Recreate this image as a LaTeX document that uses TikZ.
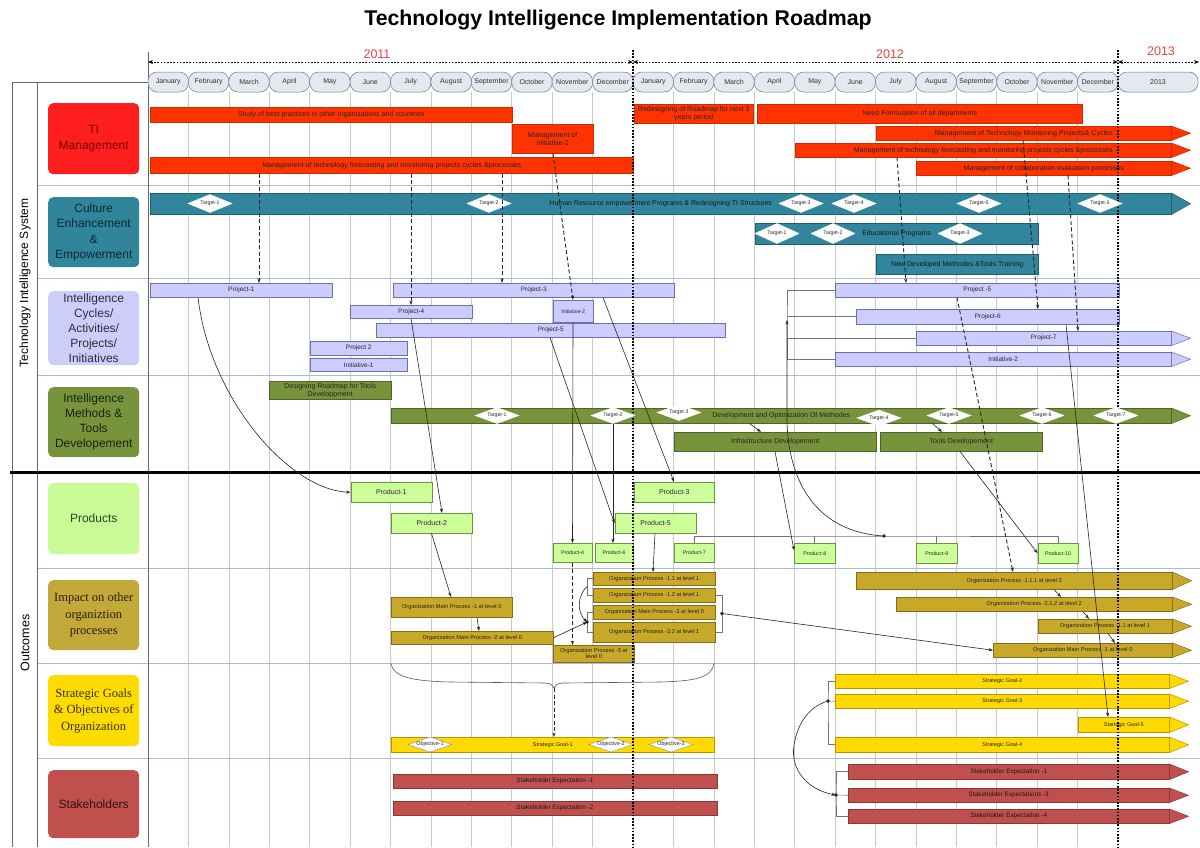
\documentclass[tikz,border=0pt]{standalone}
\usepackage{fontspec}
\setmainfont{Liberation Sans}
\newfontfamily\serifcat{Liberation Serif}
\usetikzlibrary{arrows.meta,shapes.geometric}

% palette
\definecolor{tired}{RGB}{255,51,0}
\definecolor{tiredD}{RGB}{200,45,0}
\definecolor{ceteal}{RGB}{49,133,156}
\definecolor{cetealD}{RGB}{30,95,110}
\definecolor{lav}{RGB}{204,204,255}
\definecolor{lavD}{RGB}{110,110,170}
\definecolor{mgreen}{RGB}{119,147,60}
\definecolor{mgreenD}{RGB}{80,100,40}
\definecolor{prodg}{RGB}{204,255,153}
\definecolor{prodD}{RGB}{100,150,60}
\definecolor{gold}{RGB}{199,168,40}
\definecolor{goldD}{RGB}{130,110,25}
\definecolor{goalY}{RGB}{255,217,0}
\definecolor{goalD}{RGB}{180,150,0}
\definecolor{stk}{RGB}{192,80,77}
\definecolor{stkD}{RGB}{140,55,52}
\definecolor{monthF}{RGB}{228,232,240}
\definecolor{monthD}{RGB}{110,120,140}
\definecolor{gridc}{RGB}{200,200,205}
\definecolor{rowc}{RGB}{175,185,215}
\definecolor{yearc}{RGB}{228,70,60}
\definecolor{catTIf}{RGB}{255,30,30}
\definecolor{catTIt}{RGB}{120,0,0}
\definecolor{catCEf}{RGB}{49,133,155}
\definecolor{catCEt}{RGB}{10,40,50}
\definecolor{catICf}{RGB}{205,205,250}
\definecolor{catICt}{RGB}{45,45,60}
\definecolor{catMTf}{RGB}{119,147,60}
\definecolor{catMTt}{RGB}{25,35,10}
\definecolor{catPRf}{RGB}{200,250,150}
\definecolor{catPRt}{RGB}{40,70,30}
\definecolor{catIMf}{RGB}{195,168,58}
\definecolor{catIMt}{RGB}{40,30,10}
\definecolor{catSGf}{RGB}{255,220,0}
\definecolor{catSGt}{RGB}{60,45,0}
\definecolor{catSKf}{RGB}{192,80,77}
\definecolor{catSKt}{RGB}{50,15,15}

\tikzset{
  bar/.style={draw, line width=0.5pt, inner sep=0pt, align=center, anchor=north west,
    text=black!85, font=\fontsize{6.5}{7}\selectfont},
  tibar/.style={bar, fill=tired, draw=tiredD, font=\fontsize{7.1}{7.6}\selectfont},
  cebar/.style={bar, fill=ceteal, draw=cetealD, font=\fontsize{7}{8}\selectfont, text=black!90},
  icbar/.style={bar, fill=lav, draw=lavD, font=\fontsize{6.5}{7}\selectfont},
  mtbar/.style={bar, fill=mgreen, draw=mgreenD, font=\fontsize{7}{8}\selectfont},
  prbar/.style={bar, fill=prodg, draw=prodD, font=\fontsize{7}{8}\selectfont},
  prsmall/.style={prbar, font=\fontsize{5.3}{6}\selectfont},
  imbar/.style={bar, fill=gold, draw=goldD, font=\fontsize{5.7}{6.3}\selectfont},
  sgbar/.style={bar, fill=goalY, draw=goalD, font=\fontsize{5.5}{6}\selectfont},
  skbar/.style={bar, fill=stk, draw=stkD, font=\fontsize{6.4}{7}\selectfont, text=black!90},
  target/.style={diamond, aspect=3, fill=white, draw=white, inner sep=0pt, outer sep=0pt,
    minimum width=44, minimum height=18, font=\fontsize{5.2}{6}\selectfont, text=black!85},
  objective/.style={diamond, aspect=3, fill=white, draw=black!45, line width=0.4pt,
    inner sep=0pt, outer sep=0pt, minimum width=44, minimum height=15,
    font=\fontsize{5.4}{6}\selectfont, text=black!85},
  month/.style={draw=monthD, fill=monthF, rounded corners=9, minimum height=20,
    inner sep=0pt, font=\fontsize{7}{7.5}\selectfont, text=black!80, line width=0.5pt},
  cat/.style={rounded corners=5, anchor=north west, inner sep=0pt, align=center,
    minimum width=91, font=\fontsize{12}{15.5}\selectfont},
  conn/.style={-{Stealth[length=4.5pt,width=3.2pt]}, line width=0.6pt, draw=black!85},
  dconn/.style={conn, line width=0.9pt, dash pattern=on 4pt off 2.5pt},
  brk/.style={draw=black!55, line width=0.6pt},
  gridline/.style={draw=gridc, line width=0.6pt},
  rowline/.style={draw=rowc, line width=0.7pt},
  frameline/.style={draw=black!60, line width=0.8pt},
  yeardiv/.style={draw=black, line width=1.3pt, dash pattern=on 1.6pt off 1.6pt},
  yeararrow/.style={draw=black, line width=1pt, dash pattern=on 1.6pt off 1.6pt,
    {Stealth[length=5pt,width=4pt]}-{Stealth[length=5pt,width=4pt]}},
}

% bar from (x1,y1) to (x2,y2): style, x1, y1, x2, y2, name
\newcommand{\tlbar}[6]{\node[#1, minimum width={#4-#2}, minimum height={#5-#3}] (#6) at (#2,#3)}
% pointed end attached to the east side of a bar
\newcommand{\arrtip}[3]{\filldraw[fill=#2, draw=#3, line width=0.5pt]
  (#1.north east) -- ([xshift=19]#1.east) -- (#1.south east) -- cycle;}

\begin{document}
\begin{tikzpicture}[x=1pt,y=-1pt]
\useasboundingbox (0,0) rectangle (1200,847);
\fill[white] (0,0) rectangle (1200,847);

% ---------- grid and frame ----------
\foreach \i in {1,2,...,11,13,14,...,23}
  \draw[gridline] ({148+40.417*\i},92) -- ({148+40.417*\i},847);
\foreach \y in {185,278,375,568,663,758}
  \draw[rowline] (37,\y) -- (1200,\y);
\draw[frameline] (12,82) -- (12,847);
\draw[frameline] (37,82) -- (37,847);
\draw[frameline] (148,52) -- (148,847);
\draw[frameline] (12,82) -- (148,82);
\draw[line width=3pt] (10,472) -- (1200,472);

% ---------- title and header ----------
\node[font=\bfseries\fontsize{21.3}{24}\selectfont] (title) at (618,20)
  {Technology Intelligence Implementation Roadmap};
\node[text=yearc, font=\fontsize{12.5}{14}\selectfont] (yrA) at (377,54) {2011};
\node[text=yearc, font=\fontsize{12.5}{14}\selectfont] (yrB) at (890,54) {2012};
\node[text=yearc, font=\fontsize{12.5}{14}\selectfont] (yrC) at (1161,51) {2013};
\draw[yeararrow] (148,62) -- (633,62);
\draw[yeararrow] (633,62) -- (1118,62);
\draw[yeararrow] (1118,62) -- (1199,62);

\foreach \m [count=\i from 0] in {January,February,March,April,May,June,July,August,September,October,November,December} {
  \node[month, minimum width=40.4] (ma\i) at ({148+40.417*(\i+0.5)},82) {\m};
  \node[month, minimum width=40.4] (mb\i) at ({633+40.417*(\i+0.5)},82) {\m};
}
\node[month, minimum width=80] (mc) at (1158,82) {2013};

% ---------- side labels ----------
\node[rotate=90, font=\fontsize{12}{14}\selectfont] (sysLbl) at (25,283) {Technology Intelligence System};
\node[rotate=90, font=\fontsize{12.5}{14}\selectfont] (outLbl) at (25,643) {Outcomes};

\node[cat, fill=catTIf, text=catTIt, minimum height=71] (catTI) at (48,103) {TI\\Management};
\node[cat, fill=catCEf, text=catCEt, minimum height=70] (catCE) at (48,197) {Culture\\Enhancement\\\&\\Empowerment};
\node[cat, fill=catICf, text=catICt, minimum height=74, font=\fontsize{12}{14.8}\selectfont] (catIC) at (48,291)
  {Intelligence\\Cycles/\\Activities/\\Projects/\\Initiatives};
\node[cat, fill=catMTf, text=catMTt, minimum height=70, font=\fontsize{12}{15}\selectfont] (catMT) at (48,387)
  {Intelligence\\Methods \&\\Tools\\Developement};
\node[cat, fill=catPRf, text=catPRt, minimum height=71] (catPR) at (48,483) {Products};
\node[cat, fill=catIMf, text=catIMt, minimum height=70, font=\serifcat\fontsize{12.5}{16.5}\selectfont] (catIM) at (48,580)
  {Impact on other\\organiztion\\processes};
\node[cat, fill=catSGf, text=catSGt, minimum height=71, font=\serifcat\fontsize{12.5}{16.5}\selectfont] (catSG) at (48,675)
  {Strategic Goals\\\& Objectives of\\Organization};
\node[cat, fill=catSKf, text=catSKt, minimum height=68] (catSK) at (48,770) {Stakeholders};

% ---------- TI management ----------
\tlbar{tibar}{150}{107}{512}{122}{tiStudy} {Study of best practices in other organizations and countries};
\tlbar{tibar}{512}{124}{593}{153}{tiMgmtI} {Management of\\Initiative-2};
\tlbar{tibar}{150}{157}{633}{173}{tiFore} {Management of technology forecasting and monitoring projects cycles \&processes};
\tlbar{tibar}{634}{104}{753}{123}{tiRedes} {Redesigning of Roadmap for next 3\\years period};
\tlbar{tibar}{757}{104}{1082}{123}{tiNeed} {Need Formulation of all departments};
\tlbar{tibar}{876}{126}{1171}{140}{tiMon} {Management of Technology Monitoring Projects\& Cycles};
\arrtip{tiMon}{tired}{tiredD}
\tlbar{tibar}{795}{143}{1171}{157}{tiFore2} {Management of technology forecasting and monitoring projects cycles \&processes};
\arrtip{tiFore2}{tired}{tiredD}
\tlbar{tibar}{916}{161}{1171}{175}{tiColl} {Management of collaboration evaluation processes};
\arrtip{tiColl}{tired}{tiredD}

% ---------- culture enhancement ----------
\tlbar{cebar}{150}{193}{1171}{214}{ceHR} {Human Resource empowerment Programs \& Redesigning TI Structures};
\arrtip{ceHR}{ceteal}{cetealD}
\tlbar{cebar}{755}{223}{1038}{244}{ceEdu} {Educational Programs};
\tlbar{cebar}{876}{254}{1038}{274}{ceNew} {New Developed Methodes \&Tools Training};

% ---------- intelligence cycles ----------
\tlbar{icbar}{150}{283}{332}{297}{pOne} {Project-1};
\tlbar{icbar}{393}{283}{674}{297}{pThree} {Project-3};
\tlbar{icbar}{350}{305}{472}{318}{pFour} {Project-4};
\tlbar{icbar,font=\fontsize{5.2}{6}\selectfont}{553}{300}{593}{322}{iniTwo} {Initiative-2};
\tlbar{icbar}{376}{323}{725}{337}{pFive} {Project-5};
\tlbar{icbar}{310}{341}{407}{355}{pTwo} {Project 2};
\tlbar{icbar}{310}{358}{407}{371}{iniOne} {Initiative-1};
\tlbar{icbar}{835}{283}{1119}{297}{pFiveB} {Project -5};
\tlbar{icbar}{856}{309}{1119}{324}{pSix} {Project-6};
\tlbar{icbar}{916}{331}{1171}{345}{pSeven} {Project-7};
\arrtip{pSeven}{lav}{lavD}
\tlbar{icbar}{835}{352}{1171}{366}{iniTwoB} {Initiative-2};
\arrtip{iniTwoB}{lav}{lavD}

% ---------- methods and tools ----------
\tlbar{mtbar}{269}{381}{391}{399}{mDesign} {Designing Roadmap for Tools\\Developpment};
\tlbar{mtbar}{391}{408}{1171}{423}{mDev} {Development and Optimization Of Methodes};
\arrtip{mDev}{mgreen}{mgreenD}
\tlbar{mtbar}{674}{432}{876}{451}{mInfra} {Infrastructure Developement};
\tlbar{mtbar}{880}{432}{1042}{451}{mTools} {Tools Developement};

% ---------- products ----------
\tlbar{prbar}{350.5}{482}{431.5}{502}{prOne} {Product-1};
\tlbar{prbar}{391}{513}{472}{533}{prTwo} {Product-2};
\tlbar{prbar}{634}{482}{714}{502}{prThree} {Product-3};
\tlbar{prbar}{614.5}{513}{696}{533}{prFive} {Product-5};
\tlbar{prsmall}{553}{543}{591.5}{562}{prFour} {Product-4};
\tlbar{prsmall}{594.5}{543}{633}{562}{prSix} {Product-6};
\tlbar{prsmall}{674}{543}{714}{562}{prSeven} {Product-7};
\tlbar{prsmall}{794}{543}{835}{563}{prEight} {Product-8};
\tlbar{prsmall}{916}{543}{957}{563}{prNine} {Product-9};
\tlbar{prsmall}{1037.5}{543}{1078}{563}{prTen} {Product-10};

% ---------- impact on processes ----------
\tlbar{imbar}{391}{597}{512}{617}{imOne} {Organization Main Process -1 at level 0};
\tlbar{imbar}{391}{631}{553}{644}{imTwo} {Organization Main Process -2 at level 0};
\tlbar{imbar}{593}{572}{715}{585}{ipOneOne} {Organization Process -1.1 at level 1};
\tlbar{imbar}{593}{588}{715}{602}{ipOneTwo} {Organization Process -1.2 at level 1};
\tlbar{imbar}{593}{605}{715}{619}{imThree} {Organization Main Process -3 at level 0};
\tlbar{imbar}{593}{622}{715}{642}{ipThreeTwo} {Organization Process -3.2 at level 1};
\tlbar{imbar}{553}{645}{634}{662}{ipThree} {Organization Process -3 at\\level 0};
\tlbar{imbar}{856}{572}{1172}{589}{ipOOO} {Organization Process -1.1.1 at level 2};
\arrtip{ipOOO}{gold}{goldD}
\tlbar{imbar}{896}{597}{1172}{611}{ipTOT} {Organization Process -2.1.2 at level 2};
\arrtip{ipTOT}{gold}{goldD}
\tlbar{imbar}{1037.5}{619}{1172}{633}{ipOneOneB} {Organization Process -1.1 at level 1};
\arrtip{ipOneOneB}{gold}{goldD}
\tlbar{imbar}{993}{643}{1172}{657}{imOneB} {Organization Main Process -1 at level 0};
\arrtip{imOneB}{gold}{goldD}

% ---------- strategic goals ----------
\tlbar{sgbar}{391}{737}{714}{752}{sgOne} {Strategic Goal-1};
\tlbar{sgbar}{835}{674}{1169}{688}{sgTwo} {Strategic Goal-2};
\arrtip{sgTwo}{goalY}{goalD}
\tlbar{sgbar}{835}{694}{1169}{708}{sgThree} {Strategic Goal-3};
\arrtip{sgThree}{goalY}{goalD}
\tlbar{sgbar}{1078}{717}{1169}{732}{sgFive} {Startegic Goal-5};
\arrtip{sgFive}{goalY}{goalD}
\tlbar{sgbar}{835}{737}{1169}{752}{sgFour} {Strategic Goal-4};
\arrtip{sgFour}{goalY}{goalD}

% ---------- stakeholders ----------
\tlbar{skbar}{392.6}{774}{716.7}{788}{seOne} {Stakeholder Expectation -1};
\tlbar{skbar}{392.6}{801}{716.7}{815}{seTwo} {Stakeholder Expectation -2};
\tlbar{skbar}{848}{764}{1169}{779}{seOneB} {Stakeholder Expectation -1};
\arrtip{seOneB}{stk}{stkD}
\tlbar{skbar}{848}{788}{1169}{802}{seThree} {Stakeholder Expectations -3};
\arrtip{seThree}{stk}{stkD}
\tlbar{skbar}{848}{809}{1169}{823}{seFour} {Stakeholder Expectation -4};
\arrtip{seFour}{stk}{stkD}

% ---------- year boundaries ----------
\draw[yeardiv] (633,50) -- (633,847);
\draw[yeardiv] (1118,50) -- (1118,847);

% ---------- milestones ----------
\node[target] (hrT1) at (210,203.5) {Target-1};
\node[target] (hrT2) at (489,203.5) {Target-2};
\node[target] (hrT3) at (801,203.5) {Target-3};
\node[target] (hrT4) at (854,203.5) {Target-4};
\node[target] (hrT5) at (979,203.5) {Target-5};
\node[target] (hrT6) at (1100,203.5) {Target-3};
\node[target, minimum height=20] (edT1) at (777,233.5) {Target-1};
\node[target, minimum height=20] (edT2) at (833,233.5) {Target-2};
\node[target, minimum height=20] (edT3) at (960,233.5) {Target-3};
\node[target, minimum height=16] (dvT1) at (497,415.5) {Target-1};
\node[target, minimum height=16] (dvT2) at (613,415.5) {Target-2};
\node[target, minimum height=16] (dvT3) at (679,412.5) {Target-3};
\node[target, minimum height=16] (dvT4) at (879,418) {Target-4};
\node[target, minimum height=16] (dvT5) at (949,415.5) {Target-5};
\node[target, minimum height=16] (dvT6) at (1042,415.5) {Target-6};
\node[target, minimum height=16] (dvT7) at (1116,415.5) {Target-7};
\node[objective] (obOne) at (430,744.5) {Objective-1};
\node[objective] (obTwo) at (611,744.5) {Objective-2};
\node[objective] (obThree) at (671,744.5) {Objective-3};

% ---------- grouping brackets ----------
\coordinate (prDot) at (884,536);
\coordinate (cycX) at (787,320);
\coordinate (sgDot) at (828,701);
\coordinate (skDot) at (836,795);
\coordinate (imBrA) at (587,586.5);
\coordinate (imDotL) at (587,622);
\coordinate (imDotR) at (722,613.5);
\coordinate (braceL) at (391,663);
\coordinate (braceR) at (714,663);
\coordinate (braceTip) at (554,688);

\draw[brk] (prSeven.north) |- (prDot) -| (prTen.north);
\draw[brk] (prEight.north) -- (prEight.north |- prDot);
\draw[brk] (prNine.north) -- (prNine.north |- prDot);

\draw[brk] (pFiveB.west) -| (cycX) |- (iniTwoB.west);
\draw[brk] (pSix.west) -- (pSix.west -| cycX);
\draw[brk] (pSeven.west) -- (pSeven.west -| cycX);

\draw[brk] (sgTwo.west) -| (sgDot) |- (sgFour.west);
\draw[brk] (sgThree.west) -- (sgDot);
\draw[brk] (seOneB.west) -| (skDot) |- (seFour.west);
\draw[brk] (seThree.west) -- (skDot);

\draw[brk] (ipOneOne.west) -- ++(-6,0) |- (ipOneTwo.west);
\draw[brk] (imThree.west) -- ++(-6,0) |- (ipThreeTwo.west);
\draw[brk] (ipOneTwo.east) -- ++(7,0) |- (ipThreeTwo.east);

\draw[brk, draw=black!65] (braceL) .. controls (393,678) and (415,681) .. (450,682)
  -- (545,683) .. controls (551,683.5) and (553,685) .. (braceTip)
  .. controls (555,685) and (557,683.5) .. (563,683)
  -- (660,682) .. controls (695,681) and (712,678) .. (braceR);

% ---------- dependencies ----------
\draw[dconn] ([xshift=109]tiFore.south west) -- ([xshift=109]pOne.north west);
\draw[dconn] ([xshift=261]tiFore.south west) -- ([xshift=61]pFour.north west);
\draw[dconn] ([xshift=352]tiFore.south west) -- ([xshift=109]pThree.north west);
\draw[dconn] ([xshift=41]tiMgmtI.south west) -- ([xshift=20]iniTwo.north west);
\draw[dconn] ([xshift=102]tiFore2.south west) -- ([xshift=71]pFiveB.north west);
\draw[dconn] ([xshift=147]tiMon.south west) -- ([xshift=182]pSix.north west);
\draw[dconn] ([xshift=152]tiColl.south west) -- ([xshift=162]pSeven.north west);
\draw[dconn] ([xshift=122]pFiveB.south west) -- ([xshift=157]ipOOO.north west);
\draw[dconn] ([xshift=19.5]prFour.south west) -- ([xshift=19.5]ipThree.north west);
\draw[dconn] (braceTip) -- ([xshift=163]sgOne.north west);

\draw[conn] ([xshift=48]pOne.south west) .. controls (210,400) and (290,490) .. (prOne.west);
\draw[conn] ([xshift=61]pFour.south west) -- ([xshift=51]prTwo.north west);
\draw[conn] ([xshift=174]pFive.south west) -- (prFive.west);
\draw[conn] ([xshift=20]iniTwo.south west) -- ([xshift=19.5]prFour.north west);
\draw[conn] (dvT2.south) -- (dvT2.south |- prSix.north);
\draw[conn] ([xshift=210]pThree.south west) -- ([xshift=40]prThree.north west);
\draw[conn] ([xshift=210]pSix.south west) -- ([xshift=30]sgFive.north west);
\draw[conn] ([xshift=101]mInfra.south west) -- ([yshift=3]prEight.west);
\draw[conn] ([xshift=80]mTools.south west) -- (prTen.west);
\draw[conn] ([xshift=358.5]mDev.south west) -- ([xshift=87]mInfra.north west);
\draw[conn] ([xshift=541.5]mDev.south west) -- ([xshift=62]mTools.north west);
\draw[conn] ([xshift=40.5]prTwo.south west) -- ([xshift=60]imOne.north west);
\draw[conn] ([xshift=86]imOne.south west) -- ([xshift=88]imTwo.north west);
\draw[conn] ([xshift=40.5]prFive.south west) -- ([xshift=60]ipOneOne.north west);
\draw[conn] (imBrA) .. controls (577,596) and (577,612) .. (imDotL);
\draw[conn] (imTwo.east) -- (imDotL);
\draw[conn] (imDotR) -- (imOneB.west);
\draw[conn] ([xshift=198]ipOOO.south west) -- ([xshift=165]ipTOT.north west);
\draw[conn] ([xshift=187]ipTOT.south west) -- ([xshift=51.5]ipOneOneB.north west);
\draw[conn] ([xshift=70.5]ipOneOneB.south west) -- ([xshift=122]imOneB.north west);
\draw[conn] (prDot) .. controls (815,532) and (788,480) .. (787,420) -- (cycX);
\draw[conn] (sgDot) .. controls (805,708) and (797,728) .. (794,745)
  .. controls (790,770) and (808,790) .. (skDot);

\foreach \d in {prDot,sgDot,skDot,imDotL,imDotR}
  \fill[black!85] (\d) circle (1.8);

\end{tikzpicture}
\end{document}
